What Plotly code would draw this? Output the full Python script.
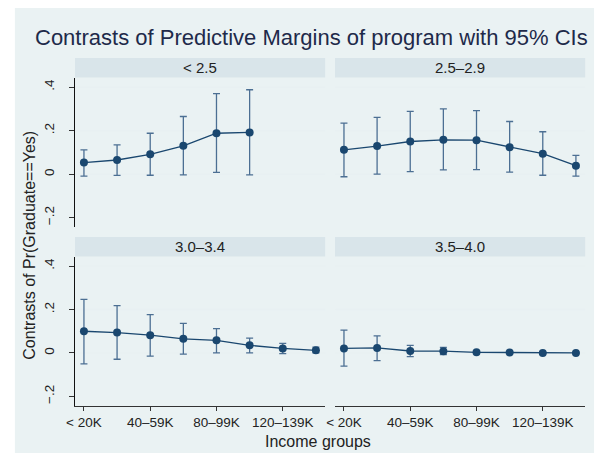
import plotly.graph_objects as go

# ---- data ----
income_groups = ["< 20K", "20–39K", "40–59K", "60–79K", "80–99K", "100–119K", "120–139K", "140K+"]
panels = ["< 2.5", "2.5–2.9", "3.0–3.4", "3.5–4.0"]

est_lt25 = [0.053, 0.065, 0.091, 0.130, 0.188, 0.192]
lo_lt25 = [-0.009, -0.006, -0.005, -0.003, 0.008, -0.003]
hi_lt25 = [0.112, 0.135, 0.188, 0.265, 0.370, 0.388]

est_2529 = [0.112, 0.129, 0.150, 0.158, 0.156, 0.124, 0.094, 0.039]
lo_2529 = [-0.012, 0.000, 0.012, 0.020, 0.021, 0.009, -0.005, -0.009]
hi_2529 = [0.235, 0.261, 0.289, 0.300, 0.292, 0.242, 0.195, 0.086]

est_3034 = [0.100, 0.094, 0.082, 0.065, 0.058, 0.035, 0.021, 0.012]
lo_3034 = [-0.050, -0.029, -0.015, -0.005, 0.000, 0.000, -0.003, 0.000]
hi_3034 = [0.247, 0.218, 0.177, 0.136, 0.112, 0.068, 0.044, 0.027]

est_3540 = [0.021, 0.023, 0.009, 0.008, 0.003, 0.002, 0.000, 0.000]
lo_3540 = [-0.061, -0.035, -0.017, -0.008, -0.003, -0.002, -0.002, -0.002]
hi_3540 = [0.105, 0.079, 0.035, 0.026, 0.009, 0.006, 0.003, 0.002]

y_tickvals = [-0.2, 0, 0.2, 0.4]
y_ticktext = ["\u2212.2", "0", ".2", ".4"]
grid_vals = [0, 0.2, 0.4]
x_tick_idx = [0, 2, 4, 6]

series = [
    (est_lt25, lo_lt25, hi_lt25),
    (est_2529, lo_2529, hi_2529),
    (est_3034, lo_3034, hi_3034),
    (est_3540, lo_3540, hi_3540),
]

# ---- style ----
W, H = 598, 461
FONT = "Liberation Sans, Arial, Helvetica, sans-serif"
NAVY = "#1A476F"
CI_COL = "#4C6F93"
BG = "#EAF2F3"
STRIP = "#D9E5EA"
GRID = "#E8F0F2"

# panel pixel boxes (left, right, top, bottom)
boxes = [
    (67, 321, 78, 227),
    (331, 585, 78, 227),
    (67, 321, 257, 405.7),
    (331, 585, 257, 405.7),
]

def px(x):
    return x / W

def py(y):
    return (H - y) / H

fig = go.Figure()

layout = dict(
    width=W, height=H,
    margin=dict(l=0, r=0, t=0, b=0),
    paper_bgcolor="white",
    plot_bgcolor="white",
    showlegend=False,
    font=dict(family=FONT, color="#222222"),
)

shapes = [dict(type="rect", xref="paper", yref="paper", x0=px(6), x1=px(594),
               y0=py(453), y1=py(8), fillcolor=BG, line=dict(width=0), layer="below")]
annotations = []

for i, (est, lo, hi) in enumerate(series):
    n = i + 1
    xa = "xaxis" if n == 1 else f"xaxis{n}"
    ya = "yaxis" if n == 1 else f"yaxis{n}"
    xr = "x" if n == 1 else f"x{n}"
    yr = "y" if n == 1 else f"y{n}"
    l, r, t, b = boxes[i]
    xs = list(range(1, len(est) + 1))
    fig.add_trace(go.Scatter(
        x=xs, y=est, xaxis=xr, yaxis=yr, mode="lines+markers",
        line=dict(color=NAVY, width=1.3),
        marker=dict(color=NAVY, size=8),
        error_y=dict(type="data", symmetric=False,
                     array=[h - e for h, e in zip(hi, est)],
                     arrayminus=[e - lo_ for e, lo_ in zip(est, lo)],
                     color=CI_COL, thickness=1.3, width=3.5),
        cliponaxis=False,
    ))
    bottom_row = n in (3, 4)
    left_col = n in (1, 3)
    layout[xa] = dict(
        domain=[px(l), px(r)], anchor=yr, range=[0.73, 8.28],
        showgrid=False, zeroline=False,
        showline=bottom_row, linecolor="#333333", linewidth=1,
        ticks="outside" if bottom_row else "", ticklen=4, tickcolor="#333333",
        tickvals=[j + 1 for j in x_tick_idx],
        ticktext=[income_groups[j] for j in x_tick_idx],
        showticklabels=bottom_row,
        tickfont=dict(size=13.5, color="#222222"),
        fixedrange=True,
    )
    layout[ya] = dict(
        domain=[py(b), py(t)], anchor=xr, range=[-0.243, 0.442],
        showgrid=False, zeroline=False,
        showline=left_col, linecolor="#111111", linewidth=1,
        ticks="outside" if left_col else "", ticklen=5, tickcolor="#333333",
        tickvals=y_tickvals, ticktext=y_ticktext,
        showticklabels=left_col, tickangle=-90, ticklabelstandoff=10,
        tickfont=dict(size=13.5, color="#222222"),
        fixedrange=True,
    )
    for g in grid_vals:
        shapes.append(dict(type="line", xref=f"{xr} domain", yref=yr, x0=0, x1=1,
                           y0=g, y1=g, line=dict(color=GRID, width=1.5), layer="below"))
    # strip header
    shapes.append(dict(type="rect", xref="paper", yref="paper", x0=px(l), x1=px(r),
                       y0=py(t - 0.5), y1=py(t - 20), fillcolor=STRIP, line=dict(width=0)))
    annotations.append(dict(text=panels[i], xref="paper", yref="paper",
                            x=px((l + r) / 2), y=py(t - 10.5), showarrow=False,
                            xanchor="center", yanchor="middle",
                            font=dict(size=15, color="#222222", family=FONT)))

annotations.append(dict(text="Contrasts of Predictive Margins of program with 95% CIs",
                        xref="paper", yref="paper", x=px(307), y=py(37),
                        showarrow=False, xanchor="center", yanchor="middle",
                        font=dict(size=22, color="#1E2A4A", family=FONT)))
annotations.append(dict(text="Contrasts of Pr(Graduate==Yes)", xref="paper", yref="paper",
                        x=px(20), y=py(245), showarrow=False, textangle=-90,
                        xanchor="center", yanchor="middle",
                        font=dict(size=16, color="#222222", family=FONT)))
annotations.append(dict(text="Income groups", xref="paper", yref="paper",
                        x=px(314), y=py(441), showarrow=False,
                        xanchor="center", yanchor="middle",
                        font=dict(size=16, color="#222222", family=FONT)))

layout["shapes"] = shapes
layout["annotations"] = annotations
fig.update_layout(**layout)
fig.write_html("out.html", config={"displayModeBar": False},
               post_script="document.body.style.margin='0';document.body.style.overflow='hidden';")
